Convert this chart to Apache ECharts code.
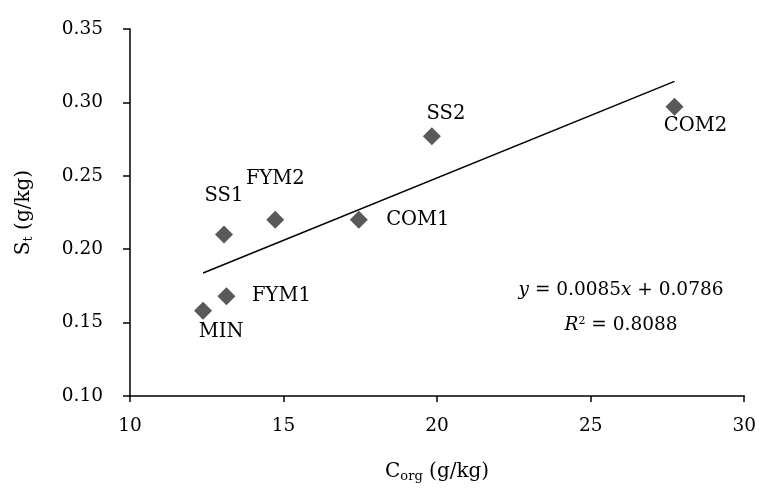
<!DOCTYPE html>
<html>
<head>
<meta charset="utf-8">
<script src="https://cdn.jsdelivr.net/npm/echarts@6/dist/echarts.min.js"></script>
<style>html,body{margin:0;padding:0;background:#fff}#c{width:759px;height:488px}</style>
</head>
<body>
<div id="c"></div>
<script>
// ---- data ----
const names = ['MIN', 'FYM1', 'SS1', 'FYM2', 'COM1', 'SS2', 'COM2'];
const corg  = [12.38, 13.14, 13.06, 14.73, 17.45, 19.83, 27.73];
const st    = [0.158, 0.168, 0.210, 0.220, 0.220, 0.277, 0.297];
const slope = 0.0085;
const intercept = 0.0786;
const r2 = '0.8088';
const xTicks = [10, 15, 20, 25, 30];
const yTicks = [0.10, 0.15, 0.20, 0.25, 0.30, 0.35];

// ---- styling (label offsets of label centre from each marker centre) ----
const labelOffsets = {
  MIN: [18, 21], FYM1: [55, 0], SS1: [0, -39], FYM2: [0, -41],
  COM1: [59, 0], SS2: [14, -22], COM2: [21, 19]
};
const FONT = '"DejaVu Serif", "Liberation Serif", serif';
const SYM = 18;

const pts = names.map((n, i) => ({
  name: n,
  value: [corg[i], st[i]],
  label: { position: [SYM / 2 + labelOffsets[n][0], SYM / 2 + labelOffsets[n][1]] }
}));
const xMin = Math.min(...corg), xMax = Math.max(...corg);
const trend = [[xMin, slope * xMin + intercept], [xMax, slope * xMax + intercept]];

const chart = echarts.init(document.getElementById('c'), null, { renderer: 'canvas' });
chart.setOption({
  animation: false,
  backgroundColor: '#fff',
  grid: { left: 130, right: 13, top: 29, bottom: 87, containLabel: false },
  xAxis: {
    type: 'value', min: xTicks[0], max: xTicks[xTicks.length - 1], interval: 5,
    splitLine: { show: false },
    axisLine: { onZero: false, lineStyle: { color: '#000', width: 1.5 } },
    axisTick: { inside: false, length: 6, lineStyle: { color: '#000', width: 1.5 } },
    axisLabel: { color: '#000', fontFamily: FONT, fontSize: 18.5, margin: 21 },
    name: '{a|C}{s|org}{a| (g/kg)}',
    nameLocation: 'middle', nameGap: 64,
    nameTextStyle: { rich: {
      a: { fontFamily: FONT, fontSize: 20, color: '#000' },
      s: { fontFamily: FONT, fontSize: 13, color: '#000', verticalAlign: 'bottom', padding: [10, 0, 0, 0] }
    } }
  },
  yAxis: {
    type: 'value', min: yTicks[0], max: yTicks[yTicks.length - 1], interval: 0.05,
    splitLine: { show: false },
    axisLine: { show: true, onZero: false, lineStyle: { color: '#000', width: 1.5 } },
    axisTick: { show: true, length: 7, lineStyle: { color: '#000', width: 1.5 } },
    axisLabel: { color: '#000', fontFamily: FONT, fontSize: 18.5, margin: 27,
                 formatter: v => v.toFixed(2) },
    name: '{a|S}{s|t}{a| (g/kg)}',
    nameLocation: 'middle', nameGap: 95, nameRotate: 90,
    nameTextStyle: { rich: {
      a: { fontFamily: FONT, fontSize: 20, color: '#000' },
      s: { fontFamily: FONT, fontSize: 13, color: '#000', verticalAlign: 'bottom', padding: [10, 0, 0, 0] }
    } }
  },
  series: [
    {
      type: 'line', data: trend, symbol: 'none', silent: true,
      lineStyle: { color: '#000', width: 1.5 }, z: 1
    },
    {
      type: 'scatter', data: pts, symbol: 'diamond', symbolSize: SYM,
      itemStyle: { color: '#595959', opacity: 1 }, z: 2,
      label: {
        show: true, formatter: '{b}', align: 'center', verticalAlign: 'middle',
        color: '#000000', opacity: 1, textBorderWidth: 0,
        fontFamily: FONT, fontSize: 19.5
      },
      emphasis: { disabled: true }
    }
  ],
  graphic: [
    {
      type: 'text', x: 621, y: 290,
      style: {
        text: '{i|y} = ' + slope.toFixed(4) + '{i|x} + ' + intercept.toFixed(4),
        fill: '#000', font: '18.5px ' + FONT, align: 'center', verticalAlign: 'middle',
        rich: { i: { fontFamily: FONT, fontStyle: 'italic', fontSize: 18.5, fill: '#000' } }
      }
    },
    {
      type: 'text', x: 621, y: 325,
      style: {
        text: '{i|R}{sup|2} = ' + r2,
        fill: '#000', font: '18.5px ' + FONT, align: 'center', verticalAlign: 'middle',
        rich: {
          i: { fontFamily: FONT, fontStyle: 'italic', fontSize: 18.5, fill: '#000' },
          sup: { fontFamily: FONT, fontSize: 11, fill: '#000', verticalAlign: 'top', padding: [0, 0, 8, 0] }
        }
      }
    }
  ]
});
</script>
</body>
</html>
